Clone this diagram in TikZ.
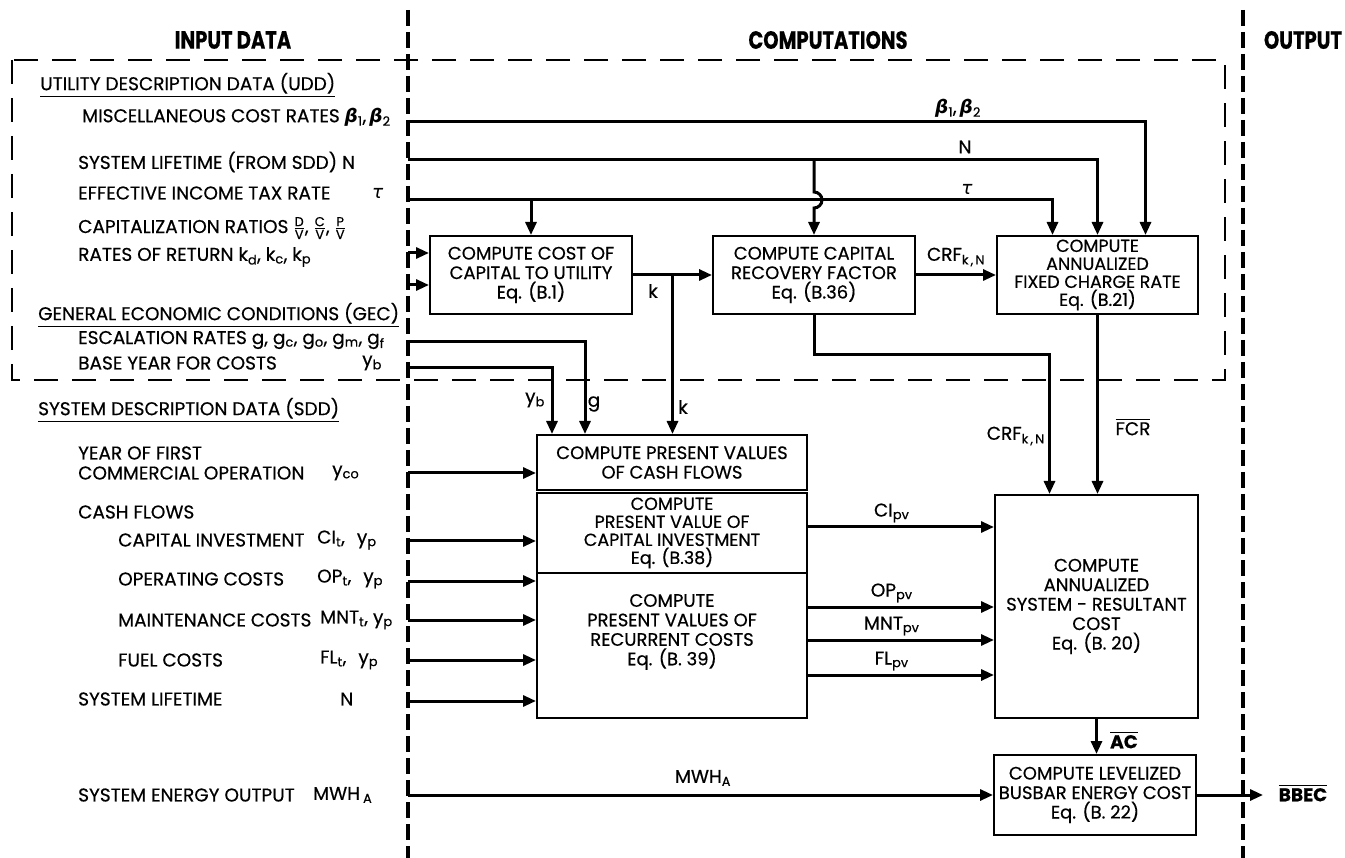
\documentclass[tikz,border=0pt]{standalone}
\usepackage{amsmath}
\usepackage{graphicx}
\usepackage{fontspec}
\setmainfont{Poppins}[FakeBold=0.5]
\newfontfamily\grkfont{DejaVu Sans}
\usetikzlibrary{arrows.meta,calc,positioning}

\newcommand{\txtfont}{\fontsize{18.5}{20}\selectfont}
\newcommand{\boxfont}{\fontsize{18}{19.5}\selectfont}
\newcommand{\tightfont}{\fontsize{17.5}{18}\selectfont}
\newcommand{\headfont}{\fontsize{25}{28}\selectfont\bfseries}
\newcommand{\sbs}[1]{\textsubscript{#1}}
\newcommand{\bsym}[1]{{\grkfont\bfseries\itshape β}\sbs{#1}}
\newcommand{\tsym}{{\grkfont\itshape τ}}
\newcommand{\ovl}[1]{$\overline{\mbox{#1}}$}
\newcommand{\rto}[1]{$\genfrac{}{}{0.8pt}{}{\mbox{\fontsize{13}{13}\selectfont #1}}{\mbox{\fontsize{13}{13}\selectfont V}}$}

\tikzset{
  procbox/.style={draw,line width=2pt,align=center,inner sep=0pt,font=\boxfont},
  boxtext/.style={align=center,inner sep=0pt,font=\boxfont},
  flow/.style={-{Triangle[length=13pt,width=11pt]},line width=3pt},
  divider/.style={line width=4pt,dash pattern=on 16pt off 6pt},
  region/.style={line width=1.8pt,dash pattern=on 24pt off 14pt},
  intext/.style={anchor=west,align=left,inner sep=0pt,font=\txtfont},
  tag/.style={inner sep=0pt,font=\txtfont},
  heading/.style={inner sep=0pt,font=\headfont}
}

\begin{document}
\begin{tikzpicture}[x=1pt,y=-1pt]
  \useasboundingbox (0,0) rectangle (1345,858);

  % Column headings, dividers and the UDD frame.
  \node[heading] (hinput) at (233,40) {\scalebox{0.78}[1]{INPUT DATA}};
  \node[heading] (hcomp) at (828,40) {\scalebox{0.78}[1]{COMPUTATIONS}};
  \node[heading] (houtput) at (1303,40) {\scalebox{0.78}[1]{OUTPUT}};
  \draw[divider] (408,10) -- (408,858);
  \draw[divider] (1243,10) -- (1243,858);
  \draw[region] (12,60) rectangle (1225,380);

  % Input data column.
  \node[intext] (udd) at (40,85) {\underline{UTILITY DESCRIPTION DATA (UDD)}};
  \node[intext] (misc) at (82,117) {MISCELLANEOUS COST RATES \bsym{1},\,\bsym{2}};
  \node[intext] (life) at (78,162) {SYSTEM LIFETIME (FROM SDD) N};
  \node[intext] (tax) at (78,193) {EFFECTIVE INCOME TAX RATE};
  \node[intext] (taxv) at (372,193) {\tsym};
  \node[intext] (capr) at (78,228) {CAPITALIZATION RATIOS \rto{D}, \rto{C}, \rto{P}};
  \node[intext] (ret) at (78,257) {RATES OF RETURN k\sbs{d}, k\sbs{c}, k\sbs{p}};
  \node[intext] (gec) at (38,315) {\underline{GENERAL ECONOMIC CONDITIONS (GEC)}};
  \node[intext] (esc) at (78,340) {ESCALATION RATES g, g\sbs{c}, g\sbs{o}, g\sbs{m}, g\sbs{f}};
  \node[intext] (base) at (78,363) {BASE YEAR FOR COSTS};
  \node[intext] (basev) at (362,363) {y\sbs{b}};
  \node[intext] (sdd) at (38,410) {\underline{SYSTEM DESCRIPTION DATA (SDD)}};
  \node[intext] (first) at (78,463) {YEAR OF FIRST\\COMMERCIAL OPERATION};
  \node[intext] (firstv) at (332,473) {y\sbs{co}};
  \node[intext] (cash) at (78,512) {CASH FLOWS};
  \node[intext] (cinv) at (118,540) {CAPITAL INVESTMENT};
  \node[intext] (cinvv) at (317,540) {CI\sbs{t},\hspace{12pt}y\sbs{p}};
  \node[intext] (opc) at (118,579) {OPERATING COSTS};
  \node[intext] (opcv) at (317,579) {OP\sbs{t},\hspace{12pt}y\sbs{p}};
  \node[intext] (mntc) at (118,620) {MAINTENANCE COSTS};
  \node[intext] (mntcv) at (320,620) {MNT\sbs{t},\hspace{5pt}y\sbs{p}};
  \node[intext] (fuel) at (118,660) {FUEL COSTS};
  \node[intext] (fuelv) at (320,660) {FL\sbs{t},\hspace{12pt}y\sbs{p}};
  \node[intext] (slife) at (78,699) {SYSTEM LIFETIME};
  \node[intext] (slifev) at (340,699) {N};
  \node[intext] (energy) at (78,795) {SYSTEM ENERGY OUTPUT};
  \node[intext] (energyv) at (313,795) {MWH\,\sbs{A}};

  % Computation blocks.
  \node[procbox,minimum width=202pt,minimum height=78pt] (cost) at (531,275)
    {COMPUTE COST OF\\CAPITAL TO UTILITY\\Eq. (B.1)};
  \node[procbox,minimum width=202pt,minimum height=78pt] (crf) at (814,275)
    {COMPUTE CAPITAL\\RECOVERY FACTOR\\Eq. (B.36)};
  \node[procbox,font=\tightfont,minimum width=201pt,minimum height=78pt] (fcr) at (1097.5,275)
    {COMPUTE\\ANNUALIZED\\FIXED CHARGE RATE\\Eq. (B.21)};
  \node[procbox,minimum width=270pt,minimum height=55pt] (pvhead) at (672,462.5)
    {COMPUTE PRESENT VALUES\\OF CASH FLOWS};
  \node[procbox,font=\tightfont,minimum width=270pt,minimum height=80pt] (pvci) at (672,533)
    {COMPUTE\\PRESENT VALUE OF\\CAPITAL INVESTMENT\\Eq. (B.38)};
  \node[procbox,minimum width=270pt,minimum height=145pt] (pvrec) at (672,645.5) {};
  \node[boxtext] (pvrectext) at (672,632)
    {COMPUTE\\PRESENT VALUES OF\\RECURRENT COSTS\\Eq. (B. 39)};
  \node[procbox,minimum width=203pt,minimum height=223pt] (sys) at (1096.5,606.5)
    {COMPUTE\\ANNUALIZED\\SYSTEM - RESULTANT\\COST\\Eq. (B. 20)};
  \node[procbox,minimum width=202pt,minimum height=80pt] (lbec) at (1095,795)
    {COMPUTE LEVELIZED\\BUSBAR ENERGY COST\\Eq. (B. 22)};

  % Utility data feeds.
  \coordinate (sBeta) at (408,122);
  \coordinate (sLife) at (408,160);
  \coordinate (sTax) at (408,200);
  \coordinate (sCap) at (408,253);
  \coordinate (sRet) at (408,285);
  \coordinate (sEsc) at (408,342);
  \coordinate (sBase) at (408,368);
  \coordinate (sMwh) at (408,795);
  \coordinate (outEnd) at (1263,795);

  \draw[flow] (sBeta) -| ([xshift=48pt]fcr.north);
  \draw[flow] (sLife) -| (fcr.north);
  \draw[flow] (sTax) -| ([xshift=-45pt]fcr.north);
  \draw[flow] (sTax -| cost.north) -- (cost.north);
  \draw[flow] (sLife -| crf.north) -- ($(sTax -| crf.north)+(0,-8)$)
    arc[start angle=-90,end angle=90,radius=8] -- (crf.north);
  \node[tag] (lbeta) at (958,108) {\bsym{1},\,\bsym{2}};
  \node[tag] (llife) at (965,147) {N};
  \node[tag] (ltax) at (967,189) {\tsym};

  \draw[flow] (sCap) -- (sCap -| cost.west);
  \draw[flow] (sRet) -- (sRet -| cost.west);

  % Cost of capital and recovery factor.
  \coordinate (kfork) at ($(cost.east)!0.5!(crf.west)$);
  \draw[flow] (cost.east) -- (crf.west);
  \draw[flow] (kfork) -- (kfork |- pvhead.north);
  \node[tag] (lk) at (653,291) {k};
  \node[tag] (lkdown) at (683,407) {k};
  \draw[flow] (crf.east) -- (fcr.west);
  \node[tag] (lcrf) at (956,257) {CRF\sbs{k\,,\,N}};
  \draw[flow] (crf.south) -- ++(0,40) -| ([xshift=-47pt]sys.north);
  \node[tag,anchor=east] (lcrfdown) at (1045,436) {CRF\sbs{k\,,\,N}};
  \draw[flow] (fcr.south) -- (fcr.south |- sys.north);
  \node[tag] (lfcr) at (1133,427) {\ovl{FCR}};

  % Economic conditions into the present value block.
  \draw[flow] (sEsc) -| ([xshift=-87pt]pvhead.north);
  \draw[flow] (sBase) -| ([xshift=-120pt]pvhead.north);
  \node[tag] (lg) at (594,404) {g};
  \node[tag] (lyb) at (535,400) {y\sbs{b}};

  \foreach \yy/\nm in {473/first,541/cinv,581/opc,620/mntc,660/fuel,701/slife} {
    \coordinate (s\nm) at (408,\yy);
    \draw[flow] (s\nm) -- (s\nm -| pvhead.west);
  }

  % Present values into the annualized cost.
  \foreach \yy/\nm/\lab in {527/ci/CI,607/op/OP,640/mnt/MNT,675/fl/FL} {
    \coordinate (o\nm) at (pvhead.east |- 0,\yy);
    \draw[flow] (o\nm) -- (o\nm -| sys.west)
      node[tag,pos=0.45,above=3pt] (l\nm) {\lab\sbs{pv}};
  }

  \draw[flow] (sys.south) -- (sys.south |- lbec.north);
  \node[tag,font=\txtfont\bfseries] (lac) at (1124,740) {\ovl{AC}};
  \draw[flow] (sMwh) -- (lbec.west);
  \node[tag] (lmwh) at (703,778) {MWH\sbs{A}};
  \draw[flow] (lbec.east) -- (outEnd);
  \node[tag,font=\txtfont\bfseries] (bbec) at (1303,793) {\ovl{BBEC}};
\end{tikzpicture}
\end{document}
